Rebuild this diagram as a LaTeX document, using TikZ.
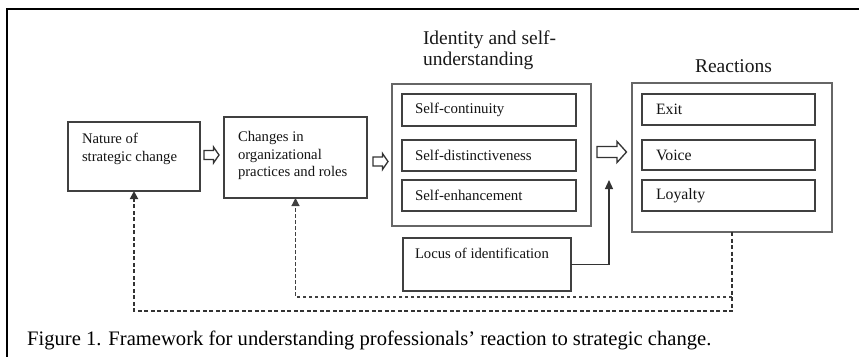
\documentclass[tikz,border=0pt]{standalone}
\usepackage{fontspec}
\setmainfont{Liberation Serif}
\usetikzlibrary{arrows.meta,fit,calc}
\begin{document}
\begin{tikzpicture}[x=1pt,y=-1pt,
  boxa/.style={draw=black!75, line width=1.3pt, inner sep=0pt, outer sep=0pt},
  boxo/.style={draw=black!60, line width=1.2pt, inner sep=0pt, outer sep=0pt},
  boxi/.style={draw=black!75, line width=1.5pt, inner sep=0pt, outer sep=0pt},
  txt/.style={inner sep=0pt, outer sep=0pt, align=left, text=black!92, font=\fontsize{14.7}{17.8}\selectfont},
  itxt/.style={inner sep=0pt, outer sep=0pt, anchor=west, text=black!92, font=\fontsize{14.9}{18}\selectfont},
  rtxt/.style={inner sep=0pt, outer sep=0pt, anchor=west, text=black!92, font=\fontsize{15.8}{18}\selectfont},
  ttl/.style={inner sep=0pt, outer sep=0pt, align=left, text=black!90, font=\fontsize{19.5}{21}\selectfont},
  hollow/.style={draw=black!80, line width=1.3pt, line join=miter},
  solidarrow/.style={draw=black!80, line width=1.2pt, -{Triangle[length=9pt,width=8pt]}},
  thickdash/.style={draw=black!80, line width=1.8pt, dash pattern=on 4pt off 2.5pt, -{Triangle[length=8pt,width=8pt]}},
  thindash/.style={draw=black!75, line width=1.1pt, dash pattern=on 3.5pt off 2.5pt, -{Triangle[length=8pt,width=8pt]}}
]
\useasboundingbox (0,0) rectangle (859,356);
\clip (0,0) rectangle (859,356);
\fill[white] (0,0) rectangle (859,356);
% frame
\draw[line width=2pt, black] (7,9) rectangle (900,400);

% main boxes
\node[boxa, fit={(68,122)(200,191)}] (nature) {};
\node[txt, anchor=north west] (naturet) at (82,133.5) {Nature of\\strategic change};

\node[boxa, fit={(224,117)(367,198)}] (changes) {};
\node[txt, anchor=north west] (changest) at (238,131) {Changes in\\organizational\\practices and roles};

% identity
\node[ttl, anchor=north west] (idt) at (423,30.7) {Identity and self-\\understanding};
\node[boxo, fit={(392,84)(591,226)}] (identity) {};
\node[boxi, fit={(402,94)(576,126)}] (sc) {};
\node[itxt] at ($(sc.west)+(13,0)$) {Self-continuity};
\node[boxi, fit={(402,140)(576,171)}] (sd) {};
\node[itxt] at ($(sd.west)+(13,0)$) {Self-distinctiveness};
\node[boxi, fit={(402,180)(576,211)}] (se) {};
\node[itxt] at ($(se.west)+(13,0)$) {Self-enhancement};

\node[boxa, fit={(403,238)(571,291)}] (locus) {};
\node[txt, anchor=north west] (locust) at (415,248) {Locus of identification};

% reactions
\node[ttl, anchor=base] (rt) at (733.5,72) {Reactions};
\node[boxo, fit={(632,83)(832,232)}] (reactions) {};
\node[boxi, fit={(642,94)(815,125)}] (exit) {};
\node[rtxt] at ($(exit.west)+(14,0)$) {Exit};
\node[boxi, fit={(642,140)(815,170)}] (voice) {};
\node[rtxt] at ($(voice.west)+(14,0)$) {Voice};
\node[boxi, fit={(642,180)(815,211)}] (loyalty) {};
\node[rtxt] at ($(loyalty.west)+(14,0)$) {Loyalty};

% hollow arrows
\draw[hollow] (204,150.5) -- (213.5,150.5) -- (213.5,147) -- (219,155) -- (213.5,163) -- (213.5,159.5) -- (204,159.5) -- cycle;
\draw[hollow] (373,157) -- (382.5,157) -- (382.5,153.5) -- (388,161.5) -- (382.5,169.5) -- (382.5,166) -- (373,166) -- cycle;
\draw[hollow] (597,146.5) -- (617,146.5) -- (617,141.5) -- (626.5,152) -- (617,162.5) -- (617,157.5) -- (597,157.5) -- cycle;

% locus arrow
\coordinate (lt) at (609,180);
\draw[solidarrow] (locus.east) -| (lt);

% feedback dashed arrows
\coordinate (fb1) at ($(reactions.south)+(0,79)$);
\coordinate (fb2) at ($(reactions.south)+(0,65)$);
\draw[thickdash] (reactions.south) -- (fb1) -| (nature.south);
\draw[thindash] (fb2) -| (changes.south);

% caption
\node[inner sep=0pt, anchor=base west, font=\fontsize{20.6}{24}\selectfont] (cap) at (27,345) {Figure 1. Framework for understanding professionals’ reaction to strategic change.};
\end{tikzpicture}
\end{document}
